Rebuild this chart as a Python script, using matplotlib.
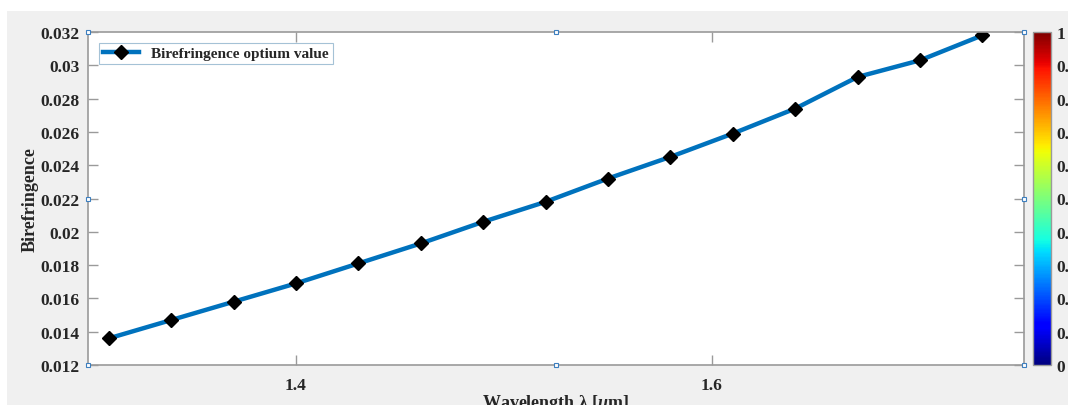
import matplotlib
matplotlib.use("Agg")
import matplotlib.pyplot as plt
import matplotlib.cm as cm
import matplotlib.colors as mcolors
from matplotlib.patches import Rectangle

# wavelength [um] and optimum birefringence
wavelength = [1.31, 1.34, 1.37, 1.40, 1.43, 1.46, 1.49, 1.52, 1.55, 1.58,
              1.61, 1.64, 1.67, 1.70, 1.73]
birefringence = [0.0136, 0.0147, 0.0158, 0.0169, 0.0181, 0.0193, 0.0206, 0.0218,
                 0.0232, 0.0245, 0.0259, 0.0274, 0.0293, 0.0303, 0.0318]

x_ticks = [1.4, 1.6]
y_ticks = [0.012, 0.014, 0.016, 0.018, 0.02, 0.022, 0.024, 0.026, 0.028, 0.03, 0.032]
y_tick_labels = ['0.012', '0.014', '0.016', '0.018', '0.02', '0.022', '0.024',
                 '0.026', '0.028', '0.03', '0.032']
cbar_ticks = [0, 0.1, 0.2, 0.3, 0.4, 0.5, 0.6, 0.7, 0.8, 0.9, 1]
cbar_labels = ['0', '0.1', '0.2', '0.3', '0.4', '0.5', '0.6', '0.7', '0.8', '0.9', '1']

plt.rcParams['font.family'] = ['Liberation Serif', 'DejaVu Serif']
plt.rcParams['font.weight'] = 'bold'
plt.rcParams['axes.labelweight'] = 'bold'
plt.rcParams['mathtext.fontset'] = 'custom'
plt.rcParams['mathtext.it'] = 'Liberation Serif:bold:italic'
plt.rcParams['mathtext.rm'] = 'Liberation Serif:bold'

W, H = 1068, 406
fig = plt.figure(figsize=(W / 100, H / 100), dpi=100, facecolor='white')

# grey figure window background
fig.patches.append(Rectangle((7 / W, 0), 1 - 7 / W, (H - 12) / H,
                             transform=fig.transFigure, facecolor='#f0f0f0',
                             edgecolor='none', zorder=-10))

ax = fig.add_axes([88 / W, (H - 366) / H, 936 / W, 333 / H])
ax.set_facecolor('white')

ax.plot(wavelength, birefringence, color='#0072BD', linewidth=3.2,
        marker='D', markersize=7, markerfacecolor='black', markeredgecolor='black',
        label='Birefringence optium value')

ax.set_xlim(1.3, 1.75)
ax.set_ylim(0.012, 0.032)
ax.set_xticks(x_ticks)
ax.set_xticklabels(['1.4', '1.6'])
ax.set_yticks(y_ticks)
ax.set_yticklabels(y_tick_labels)

axis_grey = '#9a9a9a'
text_col = '#262626'
for s in ax.spines.values():
    s.set_color(axis_grey)
    s.set_linewidth(1.2)
ax.tick_params(direction='in', length=7, width=1, color=axis_grey,
               labelcolor=text_col, labelsize=12.5,
               top=True, right=True)
ax.tick_params(axis='y', pad=6)
ax.tick_params(axis='x', pad=9)

ax.set_ylabel('Birefringence', fontsize=13, color=text_col)
ax.yaxis.set_label_coords(-0.053, 0.5)
ax.set_xlabel('Wavelength λ [$\\mu$m]', fontsize=13, color=text_col)
ax.xaxis.set_label_coords(0.5, -0.08)

leg = ax.legend(loc='upper left', fontsize=11, frameon=True, fancybox=False,
                borderpad=0.25, handlelength=2.4, borderaxespad=0.7)
leg.get_frame().set_edgecolor('#8fb3cc')
leg.get_frame().set_linewidth(0.8)
for t in leg.get_texts():
    t.set_color(text_col)

# selection handles on the axes box
hx = [0, 0.5, 1, 0, 1, 0, 0.5, 1]
hy = [1, 1, 1, 0.5, 0.5, 0, 0, 0]
ax.plot(hx, hy, linestyle='none', marker='s', markersize=3.5,
        markerfacecolor='white', markeredgecolor='#3d7fbf', markeredgewidth=0.8,
        transform=ax.transAxes, clip_on=False, zorder=5)

# colorbar
cax = fig.add_axes([1033 / W, (H - 366) / H, 18 / W, 333 / H])
sm = cm.ScalarMappable(norm=mcolors.Normalize(0, 1), cmap='jet')
cb = fig.colorbar(sm, cax=cax, ticks=cbar_ticks)
cb.ax.set_yticklabels(cbar_labels)
cb.outline.set_edgecolor(axis_grey)
cb.outline.set_linewidth(1)
cb.ax.tick_params(length=0, pad=4, labelsize=12.5, labelcolor=text_col)

fig.savefig('out.png', dpi=100, facecolor=fig.get_facecolor())
